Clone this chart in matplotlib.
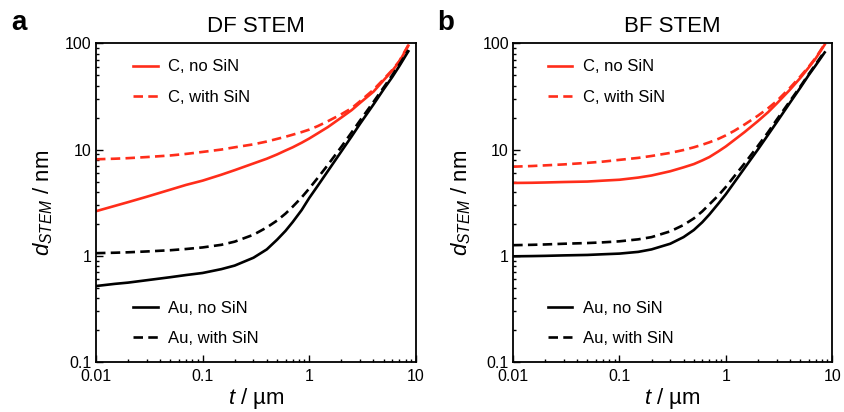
import matplotlib
matplotlib.use('Agg')
import matplotlib.pyplot as plt
from matplotlib.ticker import FixedLocator, LogLocator, NullFormatter, FuncFormatter

plt.rcParams['font.family'] = ['Liberation Sans', 'DejaVu Sans']
plt.rcParams['mathtext.fontset'] = 'custom'
plt.rcParams['mathtext.rm'] = 'Liberation Sans'
plt.rcParams['mathtext.it'] = 'Liberation Sans:italic'

# thickness t (um)
t_um = [0.01, 0.015, 0.02, 0.03, 0.05, 0.07, 0.1, 0.15, 0.2, 0.3, 0.4, 0.5, 0.6,
        0.7, 0.85, 1, 1.2, 1.5, 2, 2.5, 3, 4, 5, 6, 7, 8.5]

# DF STEM, d_STEM (nm)
df_c_no = [2.63, 2.95, 3.2, 3.6, 4.2, 4.65, 5.1, 5.8, 6.4, 7.4, 8.2, 9.0, 9.8,
           10.5, 11.6, 12.7, 14.2, 16.3, 20, 23.5, 27.5, 35, 45, 55, 67, 95]
df_c_sin = [8.1, 8.2, 8.3, 8.5, 8.8, 9.1, 9.5, 10.0, 10.5, 11.2, 11.9, 12.6, 13.2,
            13.8, 14.6, 15.4, 16.6, 18.5, 21.5, 24.5, 28.5, 36.5, 46, 56, 68, 96]
df_au_no = [0.52, 0.545, 0.56, 0.59, 0.63, 0.66, 0.69, 0.75, 0.81, 0.96, 1.15, 1.42, 1.72,
            2.08, 2.7, 3.5, 4.55, 6.3, 9.6, 13.3, 17.5, 26.5, 37, 48, 61, 84]
df_au_sin = [1.06, 1.07, 1.08, 1.1, 1.13, 1.16, 1.2, 1.27, 1.36, 1.58, 1.85, 2.15, 2.5,
             2.9, 3.55, 4.3, 5.4, 7.2, 10.6, 14.5, 18.8, 28, 38.5, 50, 63, 86]

# BF STEM, d_STEM (nm)
bf_c_no = [4.85, 4.87, 4.9, 4.95, 5.0, 5.1, 5.2, 5.45, 5.7, 6.25, 6.8, 7.3, 7.9,
           8.5, 9.6, 10.7, 12.3, 14.6, 18.5, 22.5, 27, 36.5, 47, 59, 72, 97]
bf_c_sin = [6.9, 7.0, 7.1, 7.25, 7.5, 7.7, 8.0, 8.35, 8.7, 9.3, 9.9, 10.5, 11.1,
            11.7, 12.6, 13.6, 15.0, 17.2, 20.8, 24.5, 28.5, 38, 48.5, 60, 73, 98]
bf_au_no = [0.99, 0.995, 1.0, 1.01, 1.02, 1.035, 1.05, 1.09, 1.15, 1.3, 1.5, 1.75, 2.07,
            2.45, 3.1, 3.8, 4.9, 6.7, 10.0, 13.8, 18, 27.5, 38, 50, 62, 82]
bf_au_sin = [1.26, 1.27, 1.28, 1.3, 1.32, 1.34, 1.37, 1.43, 1.5, 1.7, 1.95, 2.25, 2.62,
             3.05, 3.7, 4.45, 5.6, 7.4, 10.8, 14.6, 19, 28.5, 39, 51, 63.5, 84]

RED = '#ff2d1a'
DASH = (3.6, 2.0)


def style_axis(ax):
    ax.set_xscale('log')
    ax.set_yscale('log')
    ax.set_xlim(0.01, 10)
    ax.set_ylim(0.1, 100)
    ax.xaxis.set_major_locator(FixedLocator([0.01, 0.1, 1, 10]))
    ax.yaxis.set_major_locator(FixedLocator([0.1, 1, 10, 100]))
    ax.xaxis.set_minor_locator(LogLocator(base=10, subs=range(2, 10)))
    ax.yaxis.set_minor_locator(LogLocator(base=10, subs=range(2, 10)))
    fmt = FuncFormatter(lambda v, p: f'{v:g}')
    ax.xaxis.set_major_formatter(fmt)
    ax.yaxis.set_major_formatter(fmt)
    ax.xaxis.set_minor_formatter(NullFormatter())
    ax.yaxis.set_minor_formatter(NullFormatter())
    ax.tick_params(which='both', direction='in', labelsize=11.5, width=1)
    ax.tick_params(which='major', length=5)
    ax.tick_params(which='minor', length=2.5)
    ax.tick_params(axis='x', which='major', pad=5)
    ax.tick_params(axis='y', which='major', pad=3)
    for s in ax.spines.values():
        s.set_linewidth(1.3)
    ax.set_xlabel(r'$t$ / µm', fontsize=16, labelpad=1.5)
    ax.set_ylabel(r'$d_{STEM}$ / nm', fontsize=16, labelpad=7)


def draw_panel(ax, title, c_no, c_sin, au_no, au_sin, leg_x):
    l1, = ax.plot(t_um, c_no, color=RED, lw=1.9, label='C, no SiN')
    l2, = ax.plot(t_um, c_sin, color=RED, lw=1.9, dashes=DASH, label='C, with SiN')
    l3, = ax.plot(t_um, au_no, color='black', lw=1.9, label='Au, no SiN')
    l4, = ax.plot(t_um, au_sin, color='black', lw=1.9, dashes=DASH, label='Au, with SiN')
    style_axis(ax)
    ax.set_title(title, fontsize=16, pad=8)

    kw = dict(frameon=False, fontsize=12, handlelength=1.45, handletextpad=0.65,
              labelspacing=0.92, borderaxespad=0)
    leg1 = ax.legend(handles=[l1, l2], loc='upper left',
                     bbox_to_anchor=(leg_x, 0.97), **kw)
    ax.add_artist(leg1)
    ax.legend(handles=[l3, l4], loc='lower left',
              bbox_to_anchor=(leg_x, 0.029), **kw)


fig = plt.figure(figsize=(8.44, 4.12), dpi=100)
ax_a = fig.add_axes([0.1137, 0.121, 0.379, 0.774])
ax_b = fig.add_axes([0.608, 0.121, 0.378, 0.774])

draw_panel(ax_a, 'DF STEM', df_c_no, df_c_sin, df_au_no, df_au_sin, 0.096)
draw_panel(ax_b, 'BF STEM', bf_c_no, bf_c_sin, bf_au_no, bf_au_sin, 0.089)

fig.text(0.013, 0.945, 'a', fontsize=20, fontweight='bold', va='center')
fig.text(0.518, 0.945, 'b', fontsize=20, fontweight='bold', va='center')

fig.savefig('out.png', dpi=100)
